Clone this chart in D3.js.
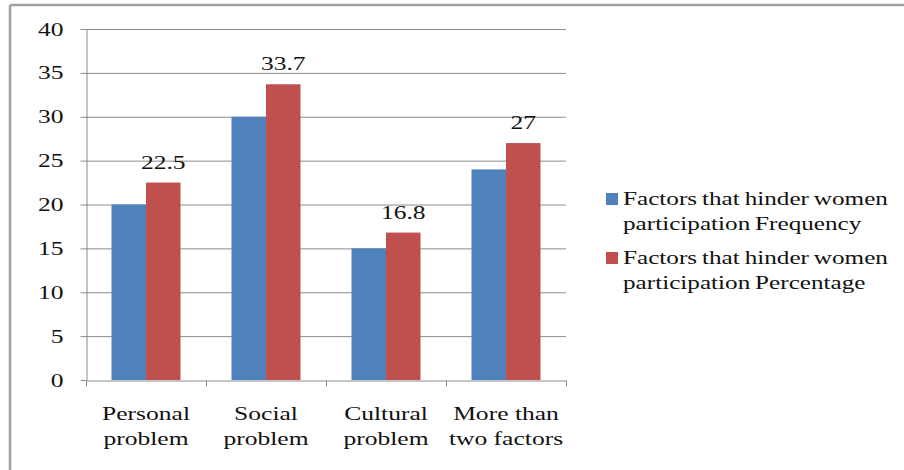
<!DOCTYPE html>
<html>
<head>
<meta charset="utf-8">
<script src="https://cdn.jsdelivr.net/npm/d3@7/dist/d3.min.js"></script>
<style>
  html, body { margin: 0; padding: 0; background: #fff; }
  svg { display: block; }
  text { font-family: "Liberation Serif", "Times New Roman", serif; fill: #111; }
</style>
</head>
<body>
<svg id="chart" width="904" height="470"></svg>
<script>
// Chart data
const categories = [
  ["Personal", "problem"],
  ["Social", "problem"],
  ["Cultural", "problem"],
  ["More than", "two factors"]
];
const frequency = [20, 30, 15, 24];
const percentage = [22.5, 33.7, 16.8, 27];
const seriesNames = [
  ["Factors that hinder women", "participation Frequency"],
  ["Factors that hinder women", "participation Percentage"]
];
const seriesColors = ["#4F81BD", "#C0504D"];
const yTicks = [0, 5, 10, 15, 20, 25, 30, 35, 40];

const svg = d3.select("#chart");
const plot = { left: 86, right: 566, top: 29, bottom: 380 };
const stretch = 1.42;   // wide serif glyphs

// Frame
svg.append("line").attr("x1", 10).attr("x2", 904).attr("y1", 5).attr("y2", 5)
  .attr("stroke", "#a0a0a0").attr("stroke-width", 2.5);
svg.append("line").attr("x1", 10).attr("x2", 10).attr("y1", 5).attr("y2", 470)
  .attr("stroke", "#a0a0a0").attr("stroke-width", 2.5);

const keys = categories.map(c => c.join(" "));
const x = d3.scaleBand().domain(keys).range([plot.left, plot.right])
  .paddingInner(0.425).paddingOuter(0.2125);
const xs = d3.scaleBand().domain([0, 1]).range([0, x.bandwidth()]);
const y = d3.scaleLinear().domain([0, 40]).range([plot.bottom, plot.top]);

// Gridlines
svg.append("g").selectAll("line").data(yTicks.filter(t => t > 0)).join("line")
  .attr("x1", plot.left).attr("x2", plot.right)
  .attr("y1", d => y(d) + 0.5).attr("y2", d => y(d) + 0.5)
  .attr("stroke", "#8c8c8c").attr("stroke-width", 1);

// Bars
const series = [frequency, percentage];
const groups = svg.append("g").selectAll("g").data(keys).join("g")
  .attr("transform", d => `translate(${x(d)},0)`);
groups.selectAll("rect").data((d, i) => series.map((s, j) => ({ j, v: s[i] }))).join("rect")
  .attr("x", d => xs(d.j)).attr("width", xs.bandwidth())
  .attr("y", d => y(d.v)).attr("height", d => y(0) - y(d.v))
  .attr("fill", d => seriesColors[d.j]);

// Value labels on percentage bars
svg.append("g").selectAll("text").data(keys).join("text")
  .attr("transform", (d, i) =>
    `translate(${x(d) + xs(1) + xs.bandwidth() / 2},${y(percentage[i]) - 14}) scale(${stretch},1)`)
  .attr("text-anchor", "middle").attr("font-size", 18)
  .text((d, i) => percentage[i]);

// Y axis
const yAxis = svg.append("g").attr("transform", `translate(${plot.left + 0.5},0)`)
  .call(d3.axisLeft(y).tickValues(yTicks).tickSize(6).tickPadding(0).tickSizeOuter(0));
yAxis.select(".domain").attr("stroke", "#8c8c8c");
yAxis.selectAll(".tick line").attr("stroke", "#8c8c8c");
yAxis.selectAll(".tick text")
  .attr("x", null).attr("dy", null)
  .attr("transform", `translate(-23,6) scale(${stretch},1)`)
  .attr("font-size", 18).attr("font-family", null).attr("fill", null);

// X axis
const xAxis = svg.append("g").attr("transform", `translate(0,${plot.bottom + 0.5})`)
  .call(d3.axisBottom(d3.scaleLinear().domain([0, 4]).range([plot.left, plot.right]))
    .ticks(4).tickSize(6).tickSizeOuter(0).tickFormat(""));
xAxis.select(".domain").attr("stroke", "#8c8c8c");
xAxis.selectAll(".tick line").attr("stroke", "#8c8c8c");

// Category labels
const catLabels = svg.append("g").selectAll("g").data(categories).join("g")
  .attr("transform", (d, i) => `translate(${x(keys[i]) + x.bandwidth() / 2},0)`);
catLabels.selectAll("text").data(d => d).join("text")
  .attr("transform", (d, k) => `translate(0,${420 + k * 25}) scale(${stretch},1)`)
  .attr("text-anchor", "middle").attr("font-size", 18)
  .text(d => d);

// Legend
const legend = svg.append("g").selectAll("g").data(seriesNames).join("g")
  .attr("transform", (d, i) => `translate(606,${193 + i * 59})`);
legend.append("rect").attr("width", 12).attr("height", 12)
  .attr("fill", (d, i) => seriesColors[i]);
legend.selectAll("text").data(d => d).join("text")
  .attr("transform", (d, k) => `translate(17,${12 + k * 25}) scale(1.4,1)`)
  .attr("font-size", 18).attr("word-spacing", -1)
  .text(d => d);
</script>
</body>
</html>
